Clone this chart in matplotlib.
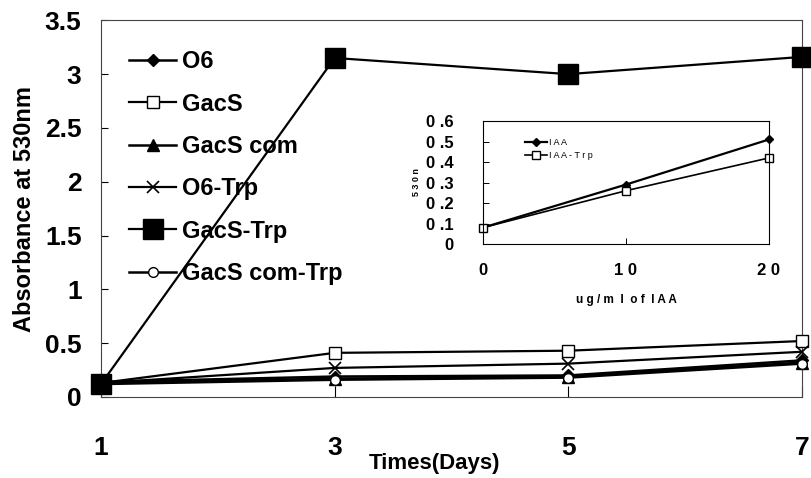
import matplotlib.pyplot as plt
from matplotlib.ticker import FuncFormatter

plt.rcParams['font.family'] = ['Liberation Sans', 'DejaVu Sans']

# Main chart data
days = [1, 3, 5, 7]
o6 = [0.14, 0.19, 0.20, 0.34]
gacs = [0.13, 0.41, 0.43, 0.52]
gacs_com = [0.13, 0.17, 0.19, 0.32]
o6_trp = [0.13, 0.27, 0.31, 0.42]
gacs_trp = [0.12, 3.15, 3.00, 3.16]
gacs_com_trp = [0.12, 0.16, 0.18, 0.31]

# Inset data
iaa_conc = [0, 10, 20]
iaa = [0.08, 0.29, 0.51]
iaa_trp = [0.08, 0.26, 0.42]

fig = plt.figure(figsize=(8.12, 4.78), dpi=100)
ax = fig.add_axes([0.1244, 0.1695, 0.8633, 0.788])

ax.plot(days, o6, color='black', lw=1.8, marker='D', ms=6, mfc='black', label='O6', clip_on=False, zorder=5)
ax.plot(days, gacs, color='black', lw=1.6, marker='s', ms=9, mfc='white', mec='black', label='GacS', clip_on=False, zorder=4)
ax.plot(days, gacs_com, color='black', lw=1.8, marker='^', ms=8, mfc='black', label='GacS com', clip_on=False, zorder=5)
ax.plot(days, o6_trp, color='black', lw=1.6, marker='x', ms=9, mew=1.2, label='O6-Trp', clip_on=False, zorder=4)
ax.plot(days, gacs_trp, color='black', lw=1.6, marker='s', ms=14, mfc='black', label='GacS-Trp', clip_on=False, zorder=6)
ax.plot(days, gacs_com_trp, color='black', lw=1.8, marker='o', ms=7, mfc='white', mec='black', label='GacS com-Trp', clip_on=False, zorder=5)

ax.set_xlim(1, 7)
ax.set_ylim(0, 3.5)
ax.set_xticks(days)
ax.set_yticks([0, 0.5, 1, 1.5, 2, 2.5, 3, 3.5])
ax.set_yticklabels(['0', '0.5', '1', '1.5', '2', '2.5', '3', '3.5'])
ax.tick_params(axis='both', direction='in', labelsize=19, width=0.8)
ax.tick_params(axis='x', pad=28, length=8)
ax.tick_params(axis='y', pad=14, length=5)
for lab in ax.get_xticklabels() + ax.get_yticklabels():
    lab.set_fontweight('bold')
for sp in ax.spines.values():
    sp.set_linewidth(0.8)
    sp.set_color('#444444')

ax.set_ylabel('Absorbance at 530nm', fontsize=17, fontweight='bold', labelpad=6)
ax.set_xlabel('Times(Days)', fontsize=16, fontweight='bold')
ax.xaxis.set_label_coords(0.476, -0.148)

ax.legend(loc='upper left', bbox_to_anchor=(0.02, 0.958), frameon=False,
          prop={'weight': 'bold', 'size': 17}, handlelength=2.0, handletextpad=0.25,
          labelspacing=0.82, borderaxespad=0.2)

# Inset
ins = fig.add_axes([0.5948, 0.4895, 0.3522, 0.2573])
ins.plot(iaa_conc, iaa, color='black', lw=1.6, marker='D', ms=4, mfc='black', label='I A A', clip_on=False)
ins.plot(iaa_conc, iaa_trp, color='black', lw=1.2, marker='s', ms=6, mfc='white', mec='black', label='I A A - T r p', clip_on=False)
ins.set_xlim(0, 20)
ins.set_ylim(0, 0.6)
ins.set_xticks([0, 10, 20])
ins.set_yticks([0, 0.1, 0.2, 0.3, 0.4, 0.5, 0.6])


def spaced(v, pos):
    s = '0' if v == 0 else ('%g' % v)
    return s.replace('.', ' .').replace('10', '1 0').replace('20', '2 0')


ins.xaxis.set_major_formatter(FuncFormatter(spaced))
ins.yaxis.set_major_formatter(FuncFormatter(spaced))
ins.tick_params(axis='both', direction='in', labelsize=12, width=0.7)
ins.tick_params(axis='x', pad=14, length=4)
ins.tick_params(axis='y', pad=21, length=4)
for lab in ins.get_xticklabels() + ins.get_yticklabels():
    lab.set_fontweight('bold')
for sp in ins.spines.values():
    sp.set_linewidth(0.8)
ins.set_ylabel('5 3 0 n', fontsize=6.5, fontweight='bold', labelpad=4)
ins.set_xlabel('u g / m  l  o f  I A A', fontsize=8.5, fontweight='bold', labelpad=11)
ins.legend(loc='upper left', bbox_to_anchor=(0.13, 0.9), frameon=False, fontsize=6.5,
           handlelength=2.5, handletextpad=0.2, labelspacing=0.5, borderaxespad=0.1)

fig.savefig('out.png', dpi=100)
